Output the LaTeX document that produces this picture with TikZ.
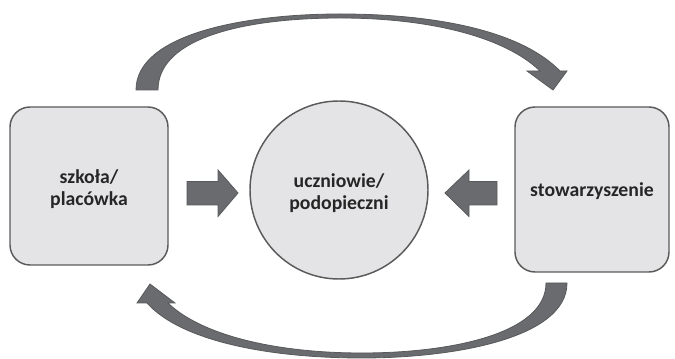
\documentclass[tikz,border=0pt]{standalone}
\usepackage{fontspec}
\setmainfont{Carlito}
\begin{document}
\begin{tikzpicture}[x=0.75pt,y=-0.75pt,
  shapebox/.style={draw=boxline, fill=boxfill, line width=1.1pt, rounded corners=15pt, inner sep=0pt},
  lbl/.style={font=\bfseries\fontsize{14.8}{17}\selectfont, text=txt, align=center, inner sep=0pt},
  blockarr/.style={fill=arrfill, draw=arredge, line width=0.6pt, line join=miter},
  bigarr/.style={fill=arrfill, draw=arredge, line width=0.6pt, line join=miter}]
\definecolor{boxline}{HTML}{5A5A5A}
\definecolor{boxfill}{HTML}{E4E4E6}
\definecolor{txt}{HTML}{262626}
\definecolor{arrfill}{HTML}{6A6B6E}
\definecolor{arredge}{HTML}{58595B}
\useasboundingbox (0,0) rectangle (675,359);
% nodes
\node[shapebox, minimum width=118.5pt, minimum height=118.5pt] (L) at (89,186) {};
\node[shapebox, minimum width=115.5pt, minimum height=123.75pt] (R) at (592,189.5) {};
\node[shapebox, circle, rounded corners=0pt, minimum size=133.5pt] (C) at (339,190) {};
\node[lbl] (Lt) at (89,189) {szkoła/\\placówka};
\node[lbl] (Ct) at (339,193) {uczniowie/\\podopieczni};
\node[lbl] (Rt) at (592,191) {stowarzyszenie};
% block arrows
\coordinate (a1) at (187,193);
\coordinate (a2) at (497,193);
\draw[blockarr] (a1) ++(0,-11.5) -- ++(31,0) -- ++(0,-11.5) -- (238,193) -- (218,216.5) -- ++(0,-11.5) -- ++(-31,0) -- cycle;
\draw[blockarr] (a2) ++(0,-11.5) -- ++(-28,0) -- ++(0,-11.5) -- (445,193) -- (469,216.5) -- ++(0,-11.5) -- ++(28,0) -- cycle;
% top curved arrow
\coordinate (t0) at (136,90);
\draw[bigarr] (t0) .. controls (136,34) and (245,14) .. (340,14)
  .. controls (440,14) and (522,32) .. (560,71)
  -- (567,71) -- (553,90) -- (527,71) -- (540,71)
  .. controls (505,37) and (430,18) .. (340,18)
  .. controls (250,18) and (158,36) .. (158,90) -- cycle;
% bottom curved arrow
\coordinate (b0) at (567,283);
\draw[bigarr] (b0) .. controls (567,338) and (455,358) .. (362,358)
  .. controls (265,358) and (180,340) .. (147,303)
  -- (137,303) -- (150,284) -- (175,303) -- (168,303)
  .. controls (200,334) and (272,353) .. (362,353)
  .. controls (450,353) and (546,334) .. (546,283) -- cycle;
\end{tikzpicture}
\end{document}
